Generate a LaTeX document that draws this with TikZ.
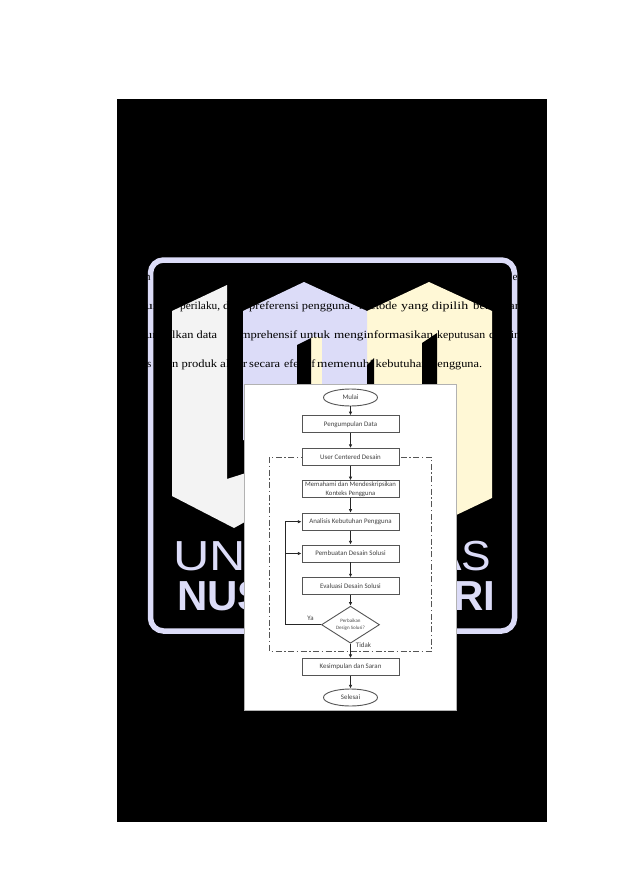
\documentclass[tikz,border=0pt]{standalone}
\usepackage{graphicx}
\usepackage{fontspec}
\setmainfont{Liberation Serif}
\setsansfont{Liberation Sans}
\newfontfamily\chartfont{Carlito}
\usetikzlibrary{shapes.geometric,arrows.meta}
\definecolor{wmblue}{HTML}{DCDCF8}
\definecolor{wmgrey}{HTML}{F3F3F3}
\definecolor{wmyellow}{HTML}{FFF8D6}
\definecolor{chartline}{HTML}{555555}
\newcommand{\fitw}[2]{\resizebox{#1pt}{\height}{#2}}
\tikzset{
 fc/.style={draw=chartline,line width=0.9pt,fill=white,minimum width=97pt,minimum height=17pt,inner sep=0pt,align=center,font=\chartfont\fontsize{6.9}{8.2}\selectfont,text=black!75},
 term/.style={draw=chartline,line width=0.9pt,shape=ellipse,fill=white,minimum width=54pt,minimum height=17pt,inner sep=0pt,font=\chartfont\fontsize{6.9}{8}\selectfont,text=black!75},
 decide/.style={draw=chartline,line width=0.9pt,shape=diamond,aspect=1.55,fill=white,minimum width=58pt,minimum height=37pt,inner sep=0pt,align=center,font=\chartfont\fontsize{5}{6.8}\selectfont,text=black!70},
 flow/.style={draw=black!85,line width=0.8pt,-{Latex[length=3.6pt,width=3.4pt]}},
 lbl/.style={font=\chartfont\fontsize{6.9}{8}\selectfont,text=black!75,inner sep=0pt},
 body/.style={font=\fontsize{11}{13}\selectfont,text=black,inner sep=0pt,anchor=base west},
 wmA/.style={font=\sffamily\fontsize{42}{42}\selectfont,text=wmblue,inner sep=0pt,anchor=base west},
 wmB/.style={font=\sffamily\bfseries\fontsize{42}{42}\selectfont,text=wmblue,inner sep=0pt,anchor=base west}
}
\begin{document}
\begin{tikzpicture}[x=1pt,y=-1pt]
\useasboundingbox (0,0) rectangle (620,877);
\fill[white] (0,0) rectangle (620,877);
\fill[black] (117,99) rectangle (547,822);
% watermark frame
\draw[wmblue,line width=5.5pt,rounded corners=13pt] (150.5,260) rectangle (514.5,631);
% shields
\fill[wmgrey] (172,311) -- (227,285) -- (227,479) -- (290,459) -- (290,497) -- (234,528) -- (172,496) -- cycle;
\fill[wmyellow] (367,311) -- (429,282) -- (492,311) -- (492,498) -- (429,528) -- (367,498) -- cycle;
\fill[black] (422,343) -- (437,333) -- (437,500) -- (422,500) -- cycle;
\fill[wmblue] (243,311) -- (304,282) -- (367,311) -- (367,440) -- (243,440) -- cycle;
\fill[wmyellow] (311,337) rectangle (321.5,390);
\fill[black] (297,345) -- (311,338) -- (311,440) -- (297,440) -- cycle;
\fill[black] (367,365) -- (374,358) -- (374,440) -- (367,440) -- cycle;
% watermark lettering
\node[wmA] (wmun) at (173,570) {\fitw{72.7}{UN}};
\node[wmA] (wmas) at (432,570) {\fitw{59}{AS}};
\node[wmB] (wmnus) at (177,610) {NUS};
\node[wmB] (wmri) at (453,610) {RI};
% body text fragments
\node[body] (a1) at (145,280) {n};
\node[body] (a2) at (512.5,280) {e};
\node[body] (b1) at (145,309) {\fitw{12}{ui}};
\node[body] (b2) at (180,309) {\fitw{40}{perilaku,}};
\node[body] (b3) at (223,309) {\fitw{19}{dan}};
\node[body] (b4) at (249,309) {\fitw{104}{preferensi pengguna.}};
\node[body] (b5) at (359,309) {\fitw{38}{Metode}};
\node[body] (b6) at (401,309) {\fitw{67}{yang dipilih}};
\node[body] (b7) at (473,309) {\fitw{48}{bertujuan}};
\node[body] (c1) at (145,338) {\fitw{12}{ur}};
\node[body] (c2) at (172,338) {\fitw{45}{lkan data}};
\node[body] (c3) at (228,338) {\fitw{69}{komprehensif}};
\node[body] (c4) at (300,338) {\fitw{30}{untuk}};
\node[body] (c5) at (334,338) {\fitw{99}{menginformasikan}};
\node[body] (c6) at (437,338) {\fitw{48}{keputusan}};
\node[body] (c7) at (489,338) {\fitw{31}{desain}};
\node[body] (d1) at (147,367) {s};
\node[body] (d2) at (172,367) {\fitw{45}{n produk}};
\node[body] (d3) at (220,367) {\fitw{27}{akhir}};
\node[body] (d4) at (249,367) {\fitw{31}{secara}};
\node[body] (d5) at (284,367) {\fitw{31}{efektif}};
\node[body] (d6) at (317,367) {\fitw{56}{memenuhi}};
\node[body] (d7) at (375.5,367) {\fitw{52}{kebutuhan}};
\node[body] (d8) at (431,367) {\fitw{51}{pengguna.}};
% flowchart sheet
\fill[white] (244.5,384.5) rectangle (456.5,710.5);
\draw[black!30,line width=0.7pt] (244.5,384.5) rectangle (456.5,710.5);
% dash-dot group
\draw[chartline,line width=0.7pt,dash pattern=on 6pt off 2.5pt on 1.5pt off 2.5pt] (269.3,457.3) rectangle (431.7,651);
% nodes
\node[term] (mulai) at (350.5,397.5) {Mulai};
\node[fc] (data) at (350.5,424.2) {Pengumpulan Data};
\node[fc] (ucd) at (350.5,457) {User Centered Desain};
\node[fc,font=\chartfont\fontsize{6.7}{8.2}\selectfont] (konteks) at (350.5,489.2) {Memahami dan Mendeskripsikan\\Konteks Pengguna};
\node[fc] (analisis) at (350.5,521.7) {Analisis Kebutuhan Pengguna};
\node[fc] (buat) at (350.5,553.5) {Pembuatan Desain Solusi};
\node[fc] (eval) at (350.5,586.3) {Evaluasi Desain Solusi};
\node[decide] (fix) at (350.5,624.7) {Perbaikan\\Design Solusi?};
\node[fc] (saran) at (350.5,667) {Kesimpulan dan Saran};
\node[term] (selesai) at (350.5,697.5) {Selesai};
\coordinate (loop) at (285.7,624.7);
\node[lbl] (ya) at (310.5,618) {Ya};
\node[lbl] (tidak) at (363.5,645) {Tidak};
% connectors
\draw[flow] (mulai) -- (data);
\draw[flow] (data) -- (ucd);
\draw[flow] (ucd) -- (konteks);
\draw[flow] (konteks) -- (analisis);
\draw[flow] (analisis) -- (buat);
\draw[flow] (buat) -- (eval);
\draw[flow] (eval) -- (fix);
\draw[flow] (fix) -- (saran);
\draw[flow] (saran) -- (selesai);
\draw[flow] (fix.west) -- (loop) -- (loop |- analisis) -- (analisis.west);
\draw[flow] (loop |- buat) -- (buat.west);
\end{tikzpicture}
\end{document}
